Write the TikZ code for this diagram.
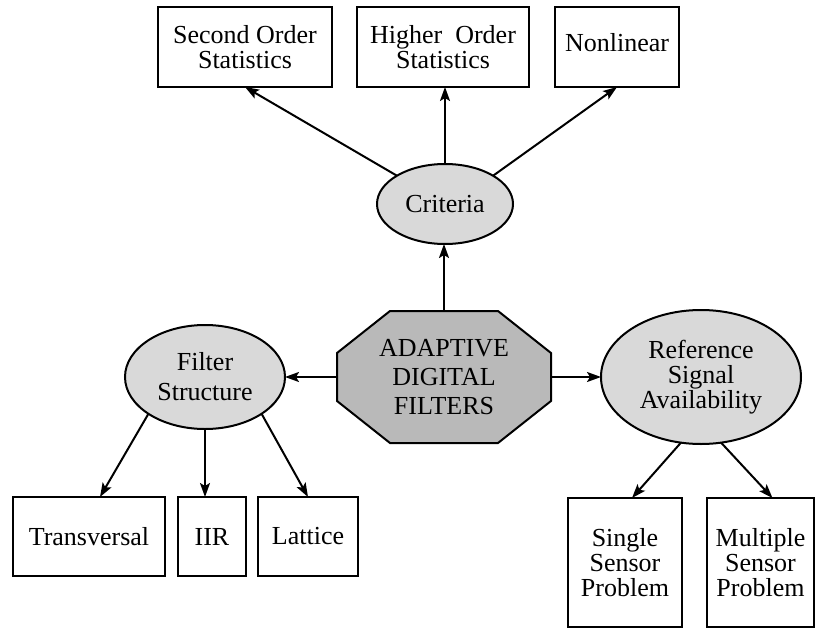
\documentclass[tikz,border=0pt]{standalone}
\usepackage{fontspec}
\setmainfont{Liberation Serif}
\usetikzlibrary{shapes.geometric,arrows.meta,calc,backgrounds}
\begin{document}
\begin{tikzpicture}[x=1pt,y=-1pt,
  txt/.style={font={\fontsize{26}{25}\selectfont}, align=center, inner sep=0pt, outer sep=0pt},
  leafbox/.style={txt, draw, line width=2pt, fill=white},
  oval/.style={txt, ellipse, draw, line width=2pt, fill=gray!30},
  link/.style={line width=2pt, -{Stealth[length=14pt,width=10pt,inset=3pt]}}]
\useasboundingbox (0,0) rectangle (817,629);

% top boxes
\node[leafbox, minimum width=174pt, minimum height=80pt] (so) at (245,47) {Second Order\\Statistics};
\node[leafbox, minimum width=172pt, minimum height=80pt] (ho) at (443,47) {Higher\ \ Order\\Statistics};
\node[leafbox, minimum width=124pt, minimum height=80pt] (nl) at (617,47) {};
\node[txt] (nlt) at (617,43) {Nonlinear};

% ellipses
\node[oval, minimum width=136pt, minimum height=80pt] (crit) at (445,204) {Criteria};
\node[oval, minimum width=160pt, minimum height=104pt, font={\fontsize{26}{30}\selectfont}] (fs) at (205,377) {Filter\\Structure};
\node[oval, minimum width=200pt, minimum height=134pt] (rsa) at (701,377) {Reference\\Signal\\Availability};

% central octagon
\node[txt, minimum width=214pt, minimum height=132pt, font={\fontsize{26}{29}\selectfont}] (adf) at (444,377) {ADAPTIVE\\DIGITAL\\FILTERS};
\begin{scope}[on background layer]
\filldraw[fill=gray!55, line width=2pt, line join=miter]
  ($(adf.north west)+(53,0)$) -- ($(adf.north east)+(-53,0)$) --
  ($(adf.north east)+(0,42)$) -- ($(adf.south east)+(0,-42)$) --
  ($(adf.south east)+(-53,0)$) -- ($(adf.south west)+(53,0)$) --
  ($(adf.south west)+(0,-42)$) -- ($(adf.north west)+(0,42)$) -- cycle;
\end{scope}

% bottom boxes
\node[leafbox, minimum width=152pt, minimum height=79pt] (tr) at (89,536.5) {Transversal};
\node[leafbox, minimum width=68pt, minimum height=79pt] (iir) at (212,536.5) {IIR};
\node[leafbox, minimum width=100pt, minimum height=79pt] (la) at (308,536.5) {Lattice};
\node[leafbox, minimum width=114pt, minimum height=129pt] (ss) at (625,562.5) {Single\\Sensor\\Problem};
\node[leafbox, minimum width=107pt, minimum height=129pt] (ms) at (760.5,562.5) {Multiple\\Sensor\\Problem};

% connectors
\draw[link] (crit.north west) -- (so.south);
\draw[link] (crit.north) -- (crit.north |- ho.south);
\draw[link] (crit.north east) -- (nl.south);
\draw[link] (adf.north) -- (adf.north |- crit.south);
\draw[link] (adf.west) -- (fs.east);
\draw[link] (adf.east) -- (rsa.west);
\draw[link] (fs.south west) -- ([xshift=11pt]tr.north);
\draw[link] (fs.south) -- (fs.south |- iir.north);
\draw[link] (fs.south east) -- (la.north);
\draw[link] (rsa.253) -- ([xshift=7pt]ss.north);
\draw[link] (rsa.287) -- ([xshift=12pt]ms.north);
\end{tikzpicture}
\end{document}
